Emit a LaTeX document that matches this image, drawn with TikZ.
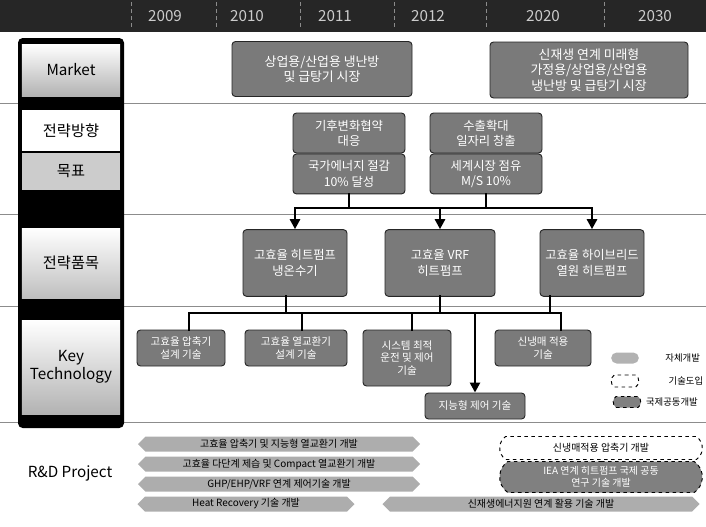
\documentclass[tikz,border=0pt]{standalone}
\usepackage{fontspec}
\setmainfont{Noto Sans CJK KR}
\usetikzlibrary{shapes.symbols, shapes.misc, arrows.meta, positioning}

\begin{document}
\begin{tikzpicture}[
    x=0.03cm, y=-0.03cm,
    every node/.style={align=center, inner sep=1pt},
    yearlbl/.style={text=white!80!black, font=\fontsize{13}{15}\selectfont},
    rowlbl/.style={minimum width=2.94cm, font=\fontsize{13}{15}\selectfont},
    plan/.style={draw=black!85, thick, rounded corners=3pt, fill=black!52, text=white, font=\fontsize{10.5}{13}\selectfont},
    goal/.style={plan, minimum width=3.36cm, minimum height=1.2cm},
    prod/.style={plan, minimum width=3.12cm, minimum height=2.0cm},
    tech/.style={plan, minimum height=1.08cm, font=\fontsize{9}{11}\selectfont},
    proj/.style={signal, signal to=west and east, fill=black!32, minimum height=0.45cm, font=\fontsize{8.5}{9.5}\selectfont, inner sep=0.5pt},
    intro/.style={rounded rectangle, rounded rectangle arc length=110, draw, dashed, thick, fill=white, font=\fontsize{8.5}{10}\selectfont},
    joint/.style={intro, fill=black!50, text=white},
    legtxt/.style={font=\fontsize{8}{9}\selectfont},
    rowline/.style={black!45, thin},
    bus/.style={line width=2.5pt, line cap=rect},
    arr/.style={line width=2.5pt, -{Triangle[length=3mm, width=3mm]}}
  ]
  \useasboundingbox (0,0) rectangle (706,526);

  % header with years
  \fill[black!85] (0,0) rectangle (706,32);
  \foreach \x in {131,216,300,394,486,604}
    \draw[white!55!black, dashed] (\x,2) -- (\x,30);
  \foreach \yr/\x in {2009/165, 2010/247, 2011/335, 2012/428, 2020/543, 2030/655}
    \node[yearlbl] (y\yr) at (\x,16) {\yr};

  % row separators
  \foreach \y in {103,214,306,422}
    \draw[rowline] (0,\y) -- (706,\y);

  % left column
  \fill[black, rounded corners=4pt] (18,38) rectangle (124,428);
  \node[rowlbl, minimum height=1.56cm, top color=white, bottom color=black!30] (lblMarket) at (71,70) {Market};
  \node[rowlbl, minimum height=1.23cm, fill=white] (lblDir) at (71,130.5) {전략방향};
  \node[rowlbl, minimum height=1.11cm, fill=black!20] (lblGoal) at (71,171.5) {목표};
  \draw[dashed, thick] (lblDir.south west) -- (lblDir.south east);
  \node[rowlbl, minimum height=2.1cm, top color=white, bottom color=black!25] (lblItem) at (71,263) {전략품목};
  \node[rowlbl, minimum height=2.82cm, top color=white, bottom color=black!30] (lblTech) at (71,367) {Key\\Technology};
  \node[font=\fontsize{13}{15}\selectfont] (lblRnd) at (70,473) {R\&D Project};

  % market
  \node[plan, minimum width=5.4cm, minimum height=1.65cm, font=\fontsize{11}{13}\selectfont] (mkt1) at (322,69) {상업용/산업용 냉난방\\및 급탕기 시장};
  \node[plan, minimum width=5.94cm, minimum height=1.68cm, font=\fontsize{11}{13}\selectfont] (mkt2) at (589,70) {신재생 연계 미래형\\가정용/상업용/산업용\\냉난방 및 급탕기 시장};

  % direction / goals
  \node[goal] (g1t) at (349,133) {기후변화협약\\대응};
  \node[goal, below=0pt of g1t] (g1b) {국가에너지 절감\\10\% 달성};
  \node[goal] (g2t) at (486,133) {수출확대\\일자리 창출};
  \node[goal, below=0pt of g2t] (g2b) {세계시장 점유\\M/S 10\%};

  % strategic items
  \node[prod] (s1) at (295,263) {고효율 히트펌프\\냉온수기};
  \node[prod, minimum width=3.3cm] (s2) at (440,263) {고효율 VRF\\히트펌프};
  \node[prod] (s3) at (592,263) {고효율 하이브리드\\열원 히트펌프};

  % key technology
  \node[tech, minimum width=2.64cm] (k1) at (181,348) {고효율 압축기\\설계 기술};
  \node[tech, minimum width=3.06cm] (k2) at (296,348) {고효율 열교환기\\설계 기술};
  \node[tech, minimum width=2.64cm, minimum height=1.68cm] (k3) at (407,358) {시스템 최적\\운전 및 제어\\기술};
  \node[tech, minimum width=2.88cm] (k4) at (543,348) {신냉매 적용\\기술};
  \node[tech, minimum width=3.0cm, minimum height=0.78cm] (kb) at (475,406) {지능형 제어 기술};

  % legend
  \node[fill=black!30, rounded rectangle, minimum width=0.9cm, minimum height=0.33cm] (legA) at (625,358) {};
  \node[legtxt, right=7.5mm of legA] (legAtxt) {자체개발};
  \node[intro, minimum width=0.9cm, minimum height=0.36cm] (legB) at (625,381) {};
  \node[legtxt, right=8.4mm of legB] (legBtxt) {기술도입};
  \node[joint, minimum width=0.9cm, minimum height=0.33cm] (legC) at (627,402) {};
  \node[legtxt, right=1mm of legC] (legCtxt) {국제공동개발};

  % R&D projects
  \node[proj, minimum width=8.46cm] (p1) at (279,444) {고효율 압축기 및 지능형 열교환기 개발};
  \node[proj, minimum width=8.46cm] (p2) at (279,464) {고효율 다단계 제습 및 Compact 열교환기 개발};
  \node[proj, minimum width=8.46cm] (p3) at (279,484) {GHP/EHP/VRF 연계 제어기술 개발};
  \node[proj, minimum width=6.51cm] (p4) at (246,504) {Heat Recovery 기술 개발};
  \node[proj, minimum width=9.51cm] (p5) at (541,504) {신재생에너지원 연계 활용 기술 개발};
  \node[intro, minimum width=6.15cm, minimum height=0.69cm] (p6) at (601,448) {신냉매적용 압축기 개발};
  \node[joint, minimum width=6.15cm, minimum height=0.93cm] (p7) at (601,477) {IEA 연계 히트펌프 국제 공동\\연구 기술 개발};

  % connectors
  \coordinate (busA) at (0,208);
  \coordinate (busB) at (0,313);
  \draw[bus] (g1b.south) -- (g1b.south |- busA);
  \draw[bus] (g2b.south) -- (g2b.south |- busA);
  \draw[bus] (s1.north |- busA) -- (s3.north |- busA);
  \foreach \n in {s1,s2,s3}
    \draw[arr] (\n.north |- busA) -- (\n.north);

  \draw[bus] ([xshift=-0.27cm]s1.south) -- ([xshift=-0.27cm]s1.south |- busB);
  \draw[bus] (s2.south) -- (s2.south |- busB);
  \draw[bus] ([xshift=-1.26cm]s3.south) -- ([xshift=-1.26cm]s3.south |- busB);
  \draw[bus] ([xshift=0.24cm]k1.north |- busB) -- ([xshift=0.54cm]k4.north |- busB);
  \draw[bus] ([xshift=0.24cm]k1.north |- busB) -- ([xshift=0.24cm]k1.north);
  \draw[bus] ([xshift=0.18cm]k2.north |- busB) -- ([xshift=0.18cm]k2.north);
  \draw[bus] ([xshift=0.15cm]k3.north |- busB) -- ([xshift=0.15cm]k3.north);
  \draw[bus] ([xshift=0.54cm]k4.north |- busB) -- ([xshift=0.54cm]k4.north);
  \draw[arr] (kb.north |- busB) -- (kb.north);
\end{tikzpicture}
\end{document}
